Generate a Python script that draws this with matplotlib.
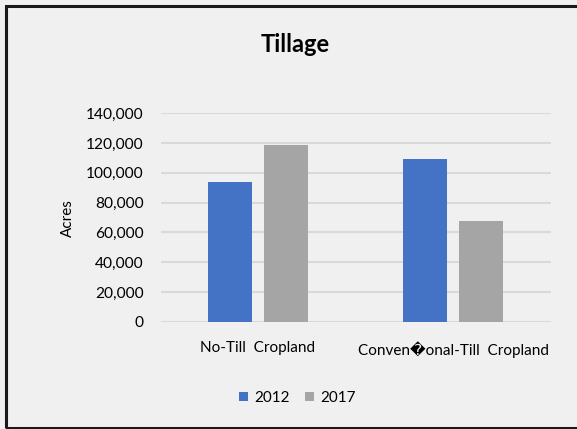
import matplotlib
matplotlib.use("Agg")
import matplotlib.pyplot as plt
import numpy as np
from matplotlib.ticker import FuncFormatter
from matplotlib.patches import Rectangle

categories = ["No-Till  Cropland", "Conven\ufffdonal-Till  Cropland"]
series_names = ["2012", "2017"]
values_2012 = [93800, 109200]
values_2017 = [118600, 67600]
colors = ["#4472C4", "#A5A5A5"]

plt.rcParams['font.family'] = ['Lato', 'DejaVu Sans']

W, H = 577, 429
fig = plt.figure(figsize=(W / 100, H / 100), dpi=100)
fig.patch.set_facecolor("#F0F0F0")

# outer frame
fig.patches.append(Rectangle((6 / W, 1.5 / H), 1.2, (H - 7.5) / H, transform=fig.transFigure,
                             fill=False, edgecolor="#1a1a1a", linewidth=2.2, zorder=0))

ax = fig.add_axes([160.5 / W, 1 - 321.7 / H, 390 / W, (321.7 - 113.1) / H])
ax.set_facecolor("#F0F0F0")

x = np.arange(len(categories))
width = 44 / 195
off = 28 / 195
ax.bar(x - off, values_2012, width, color=colors[0], label=series_names[0], zorder=3)
ax.bar(x + off, values_2017, width, color=colors[1], label=series_names[1], zorder=3)

ax.set_xlim(-0.5, 1.5)
ax.set_ylim(0, 140000)
ax.set_yticks(np.arange(0, 140001, 20000))
ax.yaxis.set_major_formatter(FuncFormatter(lambda v, p: f"{int(v):,}"))
ax.grid(axis="y", color="#D9D9D9", linewidth=1.5, zorder=0)
for s in ax.spines.values():
    s.set_visible(False)
ax.tick_params(axis="both", length=0, colors="black")
ax.tick_params(axis="y", pad=12, labelsize=11.2)
ax.tick_params(axis="x", pad=14)
ax.set_xticks(x)
ax.set_xticklabels(categories, fontsize=11)

fig.text(68 / W, 1 - 218 / H, "Acres", rotation=90, ha="center", va="center", fontsize=11)

fig.text(295.5 / W, 1 - 44 / H, "Tillage", ha="center", va="center", fontsize=17, fontweight="bold")

fig.legend(loc="center", bbox_to_anchor=(297 / W, 1 - 398 / H), ncol=2, frameon=False,
           fontsize=11, handlelength=0.6, handleheight=0.6, handletextpad=0.4, columnspacing=1.0)

fig.savefig("out.png", dpi=100, facecolor=fig.get_facecolor())
